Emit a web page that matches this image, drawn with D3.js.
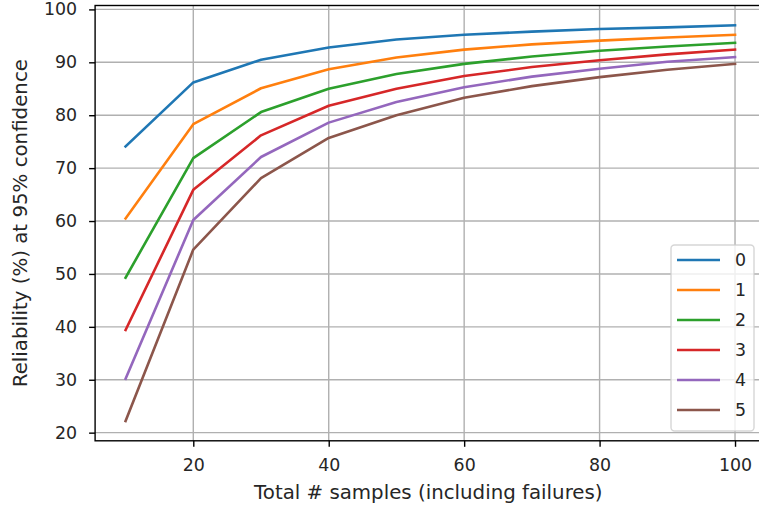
<!DOCTYPE html>
<html>
<head>
<meta charset="utf-8">
<script src="https://cdn.jsdelivr.net/npm/d3@7"></script>
<style>
  body { margin: 0; background: #fff; }
  text { font-family: "DejaVu Sans", sans-serif; fill: #262626; }
</style>
</head>
<body>
<div id="chart"></div>
<script>
'use strict';

// data
const samples = [10, 20, 30, 40, 50, 60, 70, 80, 90, 100];
const failures = ['0', '1', '2', '3', '4', '5'];
const rel0 = [74.1, 86.2, 90.5, 92.8, 94.3, 95.2, 95.8, 96.3, 96.6, 97.0];
const rel1 = [60.5, 78.3, 85.1, 88.7, 90.9, 92.4, 93.4, 94.1, 94.7, 95.2];
const rel2 = [49.3, 71.9, 80.6, 85.0, 87.8, 89.7, 91.1, 92.2, 93.0, 93.7];
const rel3 = [39.4, 65.9, 76.2, 81.8, 85.0, 87.4, 89.1, 90.4, 91.5, 92.4];
const rel4 = [30.2, 60.2, 72.1, 78.6, 82.5, 85.3, 87.3, 88.8, 90.1, 91.0];
const rel5 = [22.2, 54.6, 68.1, 75.7, 80.0, 83.3, 85.5, 87.2, 88.6, 89.7];
const xTicks = [20, 40, 60, 80, 100];
const yTicks = [20, 30, 40, 50, 60, 70, 80, 90, 100];

const series = [rel0, rel1, rel2, rel3, rel4, rel5];
const colors = ['#1f77b4', '#ff7f0e', '#2ca02c', '#d62728', '#9467bd', '#8c564b'];

// Dimensions
const
    W = 759,
    H = 510,
    axL = 95.1,
    axR = 765.5,
    axT = 5.5,
    axB = 440.8;

const svg = d3.select('#chart')
    .append('svg')
    .attr('width', W)
    .attr('height', H);

// matplotlib style 5% margins
const pad = (lo, hi) => [lo - (hi - lo) * 0.05, hi + (hi - lo) * 0.05];
const allVals = series.flat();

const x = d3.scaleLinear()
    .domain(pad(d3.min(samples), d3.max(samples)))
    .range([axL, axR]);

const y = d3.scaleLinear()
    .domain(pad(d3.min(allVals), d3.max(allVals)))
    .range([axB, axT]);

// grid
const grid = svg.append('g').attr('stroke', '#b0b0b0').attr('stroke-width', 1.4);
xTicks.forEach(t => {
    grid.append('line')
        .attr('x1', x(t)).attr('x2', x(t))
        .attr('y1', axT).attr('y2', axB);
});
yTicks.forEach(t => {
    grid.append('line')
        .attr('x1', axL).attr('x2', axR)
        .attr('y1', y(t)).attr('y2', y(t));
});

// lines
const line = d3.line()
    .x((d, i) => x(samples[i]))
    .y(d => y(d));

series.forEach((s, k) => {
    svg.append('path')
        .datum(s)
        .attr('d', line)
        .attr('fill', 'none')
        .attr('stroke', colors[k])
        .attr('stroke-width', 2.6)
        .attr('stroke-linejoin', 'round')
        .attr('stroke-linecap', 'square');
});

// axes
const xAxis = d3.axisBottom(x).tickValues(xTicks).tickSize(6).tickPadding(6).tickSizeOuter(0);
const yAxis = d3.axisLeft(y).tickValues(yTicks).tickSize(6).tickPadding(12).tickSizeOuter(0);

const gx = svg.append('g')
    .attr('transform', 'translate(0,' + axB + ')')
    .call(xAxis);
const gy = svg.append('g')
    .attr('transform', 'translate(' + axL + ',0)')
    .call(yAxis);

[gx, gy].forEach(g => {
    g.select('.domain').remove();
    g.selectAll('line').attr('stroke', '#000').attr('stroke-width', 1.4);
    g.selectAll('text')
        .attr('font-size', 17.4)
        .attr('font-family', 'DejaVu Sans')
        .attr('fill', '#262626');
});
gx.selectAll('text').attr('dy', null).attr('y', 30);

// spines
svg.append('rect')
    .attr('x', axL).attr('y', axT)
    .attr('width', axR - axL).attr('height', axB - axT)
    .attr('fill', 'none')
    .attr('stroke', '#000')
    .attr('stroke-width', 1.4);

// axis labels
svg.append('text')
    .attr('x', (axL + axR) / 2 - 2)
    .attr('y', 499)
    .attr('text-anchor', 'middle')
    .attr('font-size', 19.8)
    .text('Total # samples (including failures)');

svg.append('text')
    .attr('transform', 'translate(27,' + (axT + axB) / 2 + ') rotate(-90)')
    .attr('text-anchor', 'middle')
    .attr('font-size', 19.8)
    .text('Reliability (%) at 95% confidence');

// legend
const legend = svg.append('g').attr('transform', 'translate(671,245)');
legend.append('rect')
    .attr('width', 83).attr('height', 186)
    .attr('rx', 3.5)
    .attr('fill', 'rgba(255,255,255,0.8)')
    .attr('stroke', 'rgba(204,204,204,0.8)')
    .attr('stroke-width', 1.4);

failures.forEach((f, k) => {
    const row = legend.append('g').attr('transform', 'translate(0,' + (15 + k * 30) + ')');
    row.append('line')
        .attr('x1', 6).attr('x2', 49)
        .attr('stroke', colors[k])
        .attr('stroke-width', 2.6);
    row.append('text')
        .attr('x', 64)
        .attr('dy', '0.35em')
        .attr('font-size', 17.4)
        .text(f);
});
</script>
</body>
</html>
